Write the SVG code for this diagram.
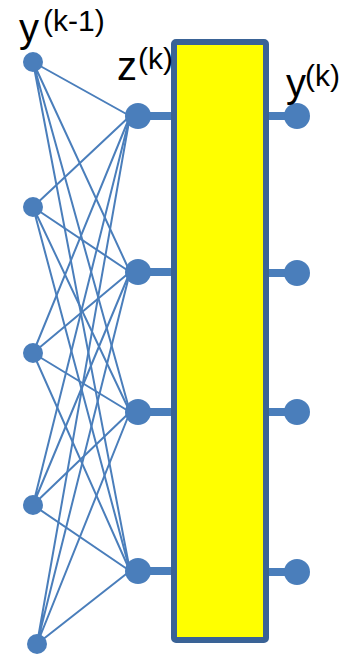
<svg xmlns="http://www.w3.org/2000/svg" width="341" height="657" viewBox="0 0 341 657">
<style>
.w{stroke:#4a7ebb;stroke-width:2;fill:none}
.s{stroke:#4a7ebb;stroke-width:8}
.n{fill:#4a7ebb}
.t{font-family:"Liberation Sans",Arial,sans-serif;fill:#000}
</style>
<rect width="341" height="657" fill="#fff"/>
<g id="connectors">
<g class="w">
<path d="M33 62L130 116M33 62L130 272M33 62L130 412M33 62L130 571"/>
<path d="M33 207L130 116M33 207L130 272M33 207L130 412M33 207L130 571"/>
<path d="M33 353L130 116M33 353L130 272M33 353L130 412M33 353L130 571"/>
<path d="M33 505L130 116M33 505L130 272M33 505L130 412M33 505L130 571"/>
<path d="M37 644L130 116M37 644L130 272M37 644L130 412M37 644L130 571"/>
</g>
<g class="s">
<path d="M138 116H175M138 272H175M138 412H175M138 571H175"/>
<path d="M265 116H297M265 273H297M265 412H297M265 572H297"/>
</g>
</g>
<g id="box"><rect x="174" y="42" width="92" height="598" rx="2" fill="#ffff00" stroke="#3a6396" stroke-width="6"/></g>
<g id="input-nodes">
<circle class="n" cx="33" cy="62" r="10"/>
<circle class="n" cx="33" cy="207" r="10"/>
<circle class="n" cx="33" cy="353" r="10"/>
<circle class="n" cx="33" cy="505" r="10"/>
<circle class="n" cx="37" cy="644" r="10"/>
</g>
<g id="z-nodes">
<circle class="n" cx="138" cy="116" r="13"/>
<circle class="n" cx="138" cy="272" r="13"/>
<circle class="n" cx="138" cy="412" r="13"/>
<circle class="n" cx="138" cy="571" r="13"/>
</g>
<g id="output-nodes">
<circle class="n" cx="297" cy="116" r="13"/>
<circle class="n" cx="297" cy="273" r="13"/>
<circle class="n" cx="297" cy="412" r="13"/>
<circle class="n" cx="297" cy="572" r="13"/>
</g>
<g id="labels">
<text class="t" x="19" y="42" font-size="40">y</text><text class="t" x="43" y="31" font-size="30">(k-1)</text>
<text class="t" x="117" y="80" font-size="40">z</text><text class="t" x="138" y="69" font-size="30">(k)</text>
<text class="t" x="286" y="97" font-size="40">y</text><text class="t" x="305" y="86" font-size="30">(k)</text>
</g>
</svg>
